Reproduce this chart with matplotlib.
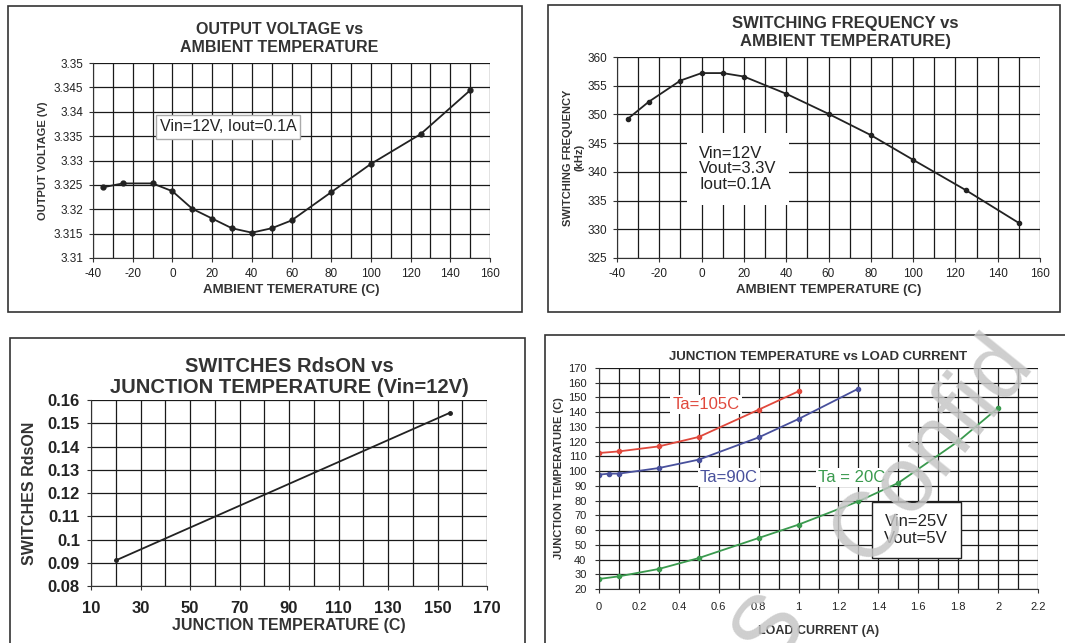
import numpy as np
import matplotlib
matplotlib.use('Agg')
import matplotlib.pyplot as plt
from matplotlib.patches import Rectangle
from matplotlib.ticker import MultipleLocator

plt.rcParams['font.family'] = ['Liberation Sans Narrow', 'Liberation Sans', 'DejaVu Sans']
plt.rcParams['axes.unicode_minus'] = False

# --- data ---
# output voltage vs ambient temperature
vout_temp = [-35, -25, -10, 0, 10, 20, 30, 40, 50, 60, 80, 100, 125, 150]
vout = [3.3245, 3.3253, 3.3253, 3.3237, 3.3201, 3.3181, 3.3161, 3.3152,
        3.3161, 3.3177, 3.3235, 3.3293, 3.3354, 3.3444]

# switching frequency vs ambient temperature
fsw_temp = [-35, -25, -10, 0, 10, 20, 40, 60, 80, 100, 125, 150]
fsw = [349.2, 352.2, 355.9, 357.2, 357.2, 356.6, 353.6, 350.1, 346.4, 342.1, 336.8, 331.1]

# RdsON vs junction temperature
rds_tj = [20, 155]
rds = [0.091, 0.1545]

# junction temperature vs load current
i_105 = [0, 0.1, 0.3, 0.5, 0.8, 1.0]
tj_105 = [112.3, 113.4, 116.8, 123.2, 141.7, 154.2]
i_90 = [0, 0.05, 0.1, 0.3, 0.5, 0.8, 1.0, 1.3]
tj_90 = [97.6, 98.3, 98.3, 102.1, 107.8, 122.9, 135.4, 156.0]
i_20 = [0, 0.1, 0.3, 0.5, 0.8, 1.0, 1.3, 1.5, 1.8, 2.0]
tj_20 = [26.8, 28.6, 33.6, 41.0, 54.6, 63.7, 79.5, 92.0, 120.2, 142.9]

W, H = 1065, 643
fig = plt.figure(figsize=(W / 100, H / 100), dpi=100)


def box(x0, y0, x1, y1):
    # pixel coords (top-left origin) -> figure fraction
    return [x0 / W, 1 - y1 / H, (x1 - x0) / W, (y1 - y0) / H]


def frame(x0, y0, x1, y1):
    b = box(x0, y0, x1, y1)
    fig.patches.append(Rectangle((b[0], b[1]), b[2], b[3], transform=fig.transFigure,
                                 fill=False, edgecolor='#333333', lw=1.2))


def style(ax, fs, bold=False, pad=4):
    ax.grid(True, which='both', color='#1a1a1a', lw=0.9)
    ax.set_axisbelow(True)
    for s in ['top', 'right']:
        ax.spines[s].set_visible(False)
    for s in ['left', 'bottom']:
        ax.spines[s].set_color('#333333')
    ax.tick_params(which='both', length=0, labelsize=fs, pad=pad)
    ax.tick_params(which='major', length=3, color='#333333')
    for lab in ax.get_xticklabels() + ax.get_yticklabels():
        lab.set_fontweight('bold' if bold else 'normal')
        lab.set_color('#222222')


frame(8, 6, 522, 312)
frame(548, 5, 1060, 312)
frame(10, 338, 525, 660)
frame(545, 335, 1070, 660)

lc = '#222222'

# panel 1
ax1 = fig.add_axes(box(93, 63, 490, 258))
ax1.plot(vout_temp, vout, color=lc, lw=1.3, marker='o', ms=3.5)
ax1.set_xlim(-40, 160)
ax1.set_ylim(3.31, 3.35)
ax1.xaxis.set_major_locator(MultipleLocator(20))
ax1.xaxis.set_minor_locator(MultipleLocator(10))
ax1.set_yticks(np.arange(3.31, 3.3501, 0.005))
ax1.set_yticklabels(['3.31', '3.315', '3.32', '3.325', '3.33', '3.335', '3.34', '3.345', '3.35'])
style(ax1, 8.5)
ax1.set_title('OUTPUT VOLTAGE vs\nAMBIENT TEMPERATURE', fontsize=11.5, fontweight='bold',
              color='#333333', pad=8, x=0.47)
ax1.set_xlabel('AMBIENT TEMERATURE (C)', fontsize=9.5, fontweight='bold', color='#333333', labelpad=3)
ax1.set_ylabel('OUTPUT VOLTAGE (V)', fontsize=8, fontweight='bold', color='#333333', labelpad=4)
ax1.text(28, 3.3369, 'Vin=12V, Iout=0.1A', fontsize=11.5, ha='center', va='center', color='#222222',
         bbox=dict(facecolor='white', edgecolor='#aaaaaa', pad=3))

# panel 2
ax2 = fig.add_axes(box(617, 57, 1040, 258))
ax2.plot(fsw_temp, fsw, color=lc, lw=1.3, marker='o', ms=3)
ax2.set_xlim(-40, 160)
ax2.set_ylim(325, 360)
ax2.xaxis.set_major_locator(MultipleLocator(20))
ax2.xaxis.set_minor_locator(MultipleLocator(10))
ax2.yaxis.set_major_locator(MultipleLocator(5))
style(ax2, 8.5)
ax2.set_title('SWITCHING FREQUENCY vs\nAMBIENT TEMPERATURE)', fontsize=12, fontweight='bold',
              color='#333333', pad=8, x=0.54)
ax2.set_xlabel('AMBIENT TEMPERATURE (C)', fontsize=9.5, fontweight='bold', color='#333333', labelpad=3)
ax2.set_ylabel('SWITCHING FREQUENCY\n(kHz)', fontsize=8, fontweight='bold', color='#333333',
               labelpad=2)
ax2.text(-1.2, 340.5, 'Vin=12V\nVout=3.3V\nIout=0.1A', fontsize=12, ha='left', va='center',
         color='#222222', linespacing=1.05,
         bbox=dict(facecolor='white', edgecolor='none', pad=9))

# panel 3
ax3 = fig.add_axes(box(91, 400, 487, 586))
ax3.plot(rds_tj, rds, color=lc, lw=1.3, marker='o', ms=2.5)
ax3.set_xlim(10, 170)
ax3.set_ylim(0.08, 0.16)
ax3.set_xticks(np.arange(10, 171, 20))
ax3.xaxis.set_minor_locator(MultipleLocator(10))
ax3.set_yticks(np.arange(0.08, 0.1601, 0.01))
ax3.set_yticklabels(['0.08', '0.09', '0.1', '0.11', '0.12', '0.13', '0.14', '0.15', '0.16'])
style(ax3, 12, bold=True, pad=5)
ax3.tick_params(axis='x', pad=8)
ax3.set_title('SWITCHES RdsON vs\nJUNCTION TEMPERATURE (Vin=12V)', fontsize=14.5,
              fontweight='bold', color='#333333', pad=5, linespacing=1.15)
ax3.set_xlabel('JUNCTION TEMPERATURE (C)', fontsize=11.5, fontweight='bold', color='#333333',
               labelpad=1)
ax3.set_ylabel('SWITCHES RdsON', fontsize=11.5, fontweight='bold', color='#333333', labelpad=8)

# panel 4
ax4 = fig.add_axes(box(599, 368, 1038, 589))
ax4.plot(i_105, tj_105, color='#e0483c', lw=1.3, marker='o', ms=3)
ax4.plot(i_90, tj_90, color='#48509c', lw=1.3, marker='o', ms=3)
ax4.plot(i_20, tj_20, color='#3a9a4e', lw=1.3, marker='o', ms=3)
ax4.set_xlim(0, 2.2)
ax4.set_ylim(20, 170)
ax4.set_xticks(np.arange(0, 2.21, 0.2))
ax4.set_xticklabels(['0', '0.2', '0.4', '0.6', '0.8', '1', '1.2', '1.4', '1.6', '1.8', '2', '2.2'])
ax4.xaxis.set_minor_locator(MultipleLocator(0.1))
ax4.yaxis.set_major_locator(MultipleLocator(10))
style(ax4, 8, pad=6)
ax4.set_title('JUNCTION TEMPERATURE vs LOAD CURRENT', fontsize=9.5, fontweight='bold',
              color='#333333', pad=6)
ax4.set_xlabel('LOAD CURRENT (A)', fontsize=9, fontweight='bold', color='#333333', labelpad=10)
ax4.set_ylabel('JUNCTION TEMPERATURE (C)', fontsize=8, fontweight='bold', color='#333333',
               labelpad=3)
ax4.text(0.536, 145, 'Ta=105C', color='#e0483c', fontsize=12, ha='center', va='center',
         bbox=dict(facecolor='white', edgecolor='none', pad=1.5))
ax4.text(0.651, 96, 'Ta=90C', color='#48509c', fontsize=12, ha='center', va='center',
         bbox=dict(facecolor='white', edgecolor='none', pad=1.5))
ax4.text(1.268, 96, 'Ta = 20C', color='#3a9a4e', fontsize=12, ha='center', va='center',
         bbox=dict(facecolor='white', edgecolor='none', pad=1.5))
ax4.text(1.59, 60, 'Vin=25V\nVout=5V', color='#222222', fontsize=12, ha='center', va='center',
         linespacing=1.1, bbox=dict(facecolor='white', edgecolor='#222222', pad=9))

# watermark over the bottom-right panel
fig.text(868 / W, 1 - 568 / H, 'Confid', fontsize=66, color='#c6c6c6', alpha=0.85,
         rotation=51, rotation_mode='anchor', ha='left', va='baseline', zorder=10,
         family='Liberation Sans')
fig.text(770 / W, 1 - 668 / H, 'S', fontsize=66, color='#c6c6c6', alpha=0.85,
         rotation=51, rotation_mode='anchor', ha='left', va='baseline', zorder=10,
         family='Liberation Sans')

fig.savefig('out.png', dpi=100)
